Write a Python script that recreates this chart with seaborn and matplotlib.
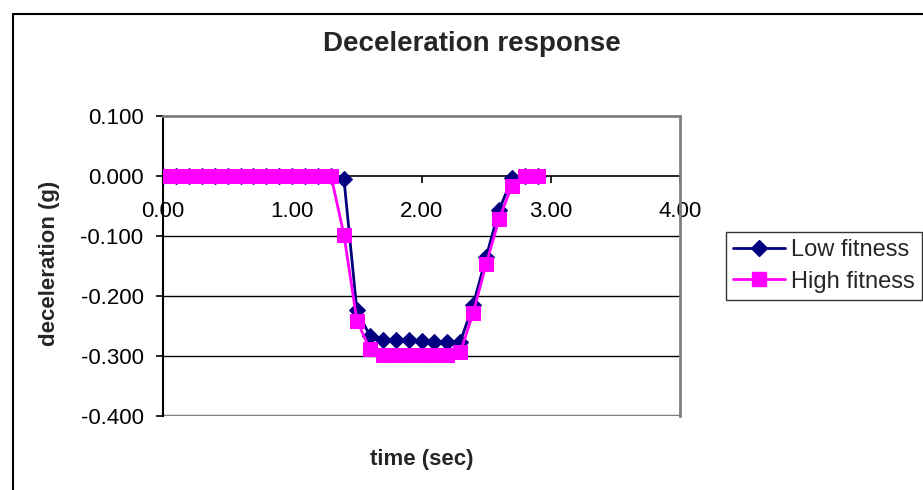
import numpy as np
import pandas as pd
import matplotlib
matplotlib.use("Agg")
import matplotlib.pyplot as plt
import seaborn as sns
from matplotlib.lines import Line2D

time_sec = [0.0, 0.1, 0.2, 0.3, 0.4, 0.5, 0.6, 0.7, 0.8, 0.9, 1.0, 1.1, 1.2, 1.3,
            1.4, 1.5, 1.6, 1.7, 1.8, 1.9, 2.0, 2.1, 2.2, 2.3, 2.4, 2.5, 2.6, 2.7, 2.8, 2.9]
low_fitness = [0.0] * 14 + [-0.005, -0.224, -0.266, -0.273, -0.274, -0.274, -0.275, -0.276,
                            -0.276, -0.276, -0.215, -0.135, -0.057, -0.004, 0.0, 0.0]
high_fitness = [0.0] * 14 + [-0.098, -0.241, -0.288, -0.299, -0.299, -0.299, -0.299, -0.299,
                             -0.299, -0.294, -0.228, -0.147, -0.072, -0.016, 0.0, 0.0]
series_names = ["Low fitness", "High fitness"]
x_ticks = [0.0, 1.0, 2.0, 3.0, 4.0]
y_ticks = [0.1, 0.0, -0.1, -0.2, -0.3, -0.4]

sns.set_style("white")
plt.rcParams['font.family'] = ['Liberation Sans', 'DejaVu Sans']

W, H = 923, 490
fig = plt.figure(figsize=(W / 100, H / 100), dpi=100)
ax = fig.add_axes([163 / W, 1 - 416 / H, (680 - 163) / W, (416 - 116) / H])

df = pd.DataFrame({"time": time_sec * 2,
                   "val": low_fitness + high_fitness,
                   "series": [series_names[0]] * len(time_sec) + [series_names[1]] * len(time_sec)})

sns.lineplot(data=df[df.series == series_names[0]], x="time", y="val", ax=ax,
             color="#000080", marker="D", markersize=8, markeredgecolor="#000080",
             linewidth=2, label=series_names[0], legend=False, zorder=3)
sns.lineplot(data=df[df.series == series_names[1]], x="time", y="val", ax=ax,
             color="#FF00FF", marker="s", markersize=10, markeredgecolor="#FF00FF",
             linewidth=2, label=series_names[1], legend=False, zorder=4)

ax.set_xlim(0, 4)
ax.set_ylim(-0.4, 0.1)
ax.set_xticks(x_ticks)
ax.set_xticklabels([f"{v:.2f}" for v in x_ticks])
ax.set_yticks(y_ticks)
ax.set_yticklabels([f"{v:.3f}" for v in y_ticks])
ax.set_xlabel("")
ax.set_ylabel("")

for yv in [-0.1, -0.2, -0.3]:
    ax.axhline(yv, color="black", linewidth=1, zorder=1)
ax.axhline(-0.4, color="#808080", linewidth=2.5, zorder=1)

ax.spines['top'].set_color("#808080")
ax.spines['top'].set_linewidth(2)
ax.spines['right'].set_color("#808080")
ax.spines['right'].set_linewidth(2)
ax.spines['left'].set_color("black")
ax.spines['left'].set_linewidth(1.5)
ax.spines['bottom'].set_position(('data', 0))
ax.spines['bottom'].set_color("black")
ax.spines['bottom'].set_linewidth(1.2)
ax.spines['bottom'].set_zorder(2)

ax.tick_params(axis='both', which='both', direction='out', length=5, width=1.2,
               colors='black', labelsize=16, bottom=True, left=True)
ax.tick_params(axis='x', pad=13)
ax.tick_params(axis='y', pad=9)

fig.text(472 / W, 1 - 44 / H, "Deceleration response", ha="center", va="center",
         fontsize=20, fontweight="bold")
fig.text(422 / W, 1 - 459 / H, "time (sec)", ha="center", va="center",
         fontsize=16, fontweight="bold")
fig.text(50 / W, 1 - 263 / H, "deceleration (g)", ha="center", va="center",
         rotation=90, fontsize=16, fontweight="bold")

handles = [Line2D([], [], color="#000080", marker="D", markersize=8, linewidth=2),
           Line2D([], [], color="#FF00FF", marker="s", markersize=10, linewidth=2)]
leg = fig.legend(handles, series_names, loc="upper left",
                 bbox_to_anchor=(726 / W, 1 - 232 / H), borderaxespad=0,
                 fontsize=17, frameon=True, fancybox=False, edgecolor="black",
                 handlelength=2.2, borderpad=0.3, labelspacing=0.4, handletextpad=0.25)
leg.get_frame().set_linewidth(1)

fig.add_artist(Line2D([13 / W, 13 / W], [0, 1 - 14 / H], color="black", linewidth=1.5))
fig.add_artist(Line2D([13 / W, 1], [1 - 14 / H, 1 - 14 / H], color="black", linewidth=1.5))

fig.savefig("out.png", dpi=100)
